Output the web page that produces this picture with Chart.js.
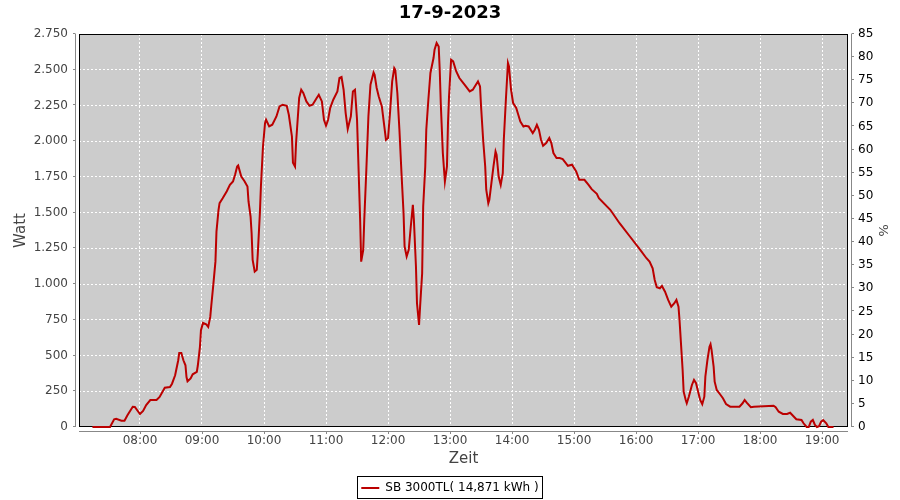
<!DOCTYPE html>
<html>
<head>
<meta charset="utf-8">
<title>17-9-2023</title>
<script src="https://cdn.jsdelivr.net/npm/chart.js@4.4.0/dist/chart.umd.min.js"></script>
<style>
  html, body { margin: 0; padding: 0; background: #fff; }
</style>
</head>
<body>
<canvas id="grafico" width="900" height="500"></canvas>
<script>
const titulo = "17-9-2023";
const nombreSerie = "SB 3000TL( 14,871 kWh )";

// Horas de lectura y potencia en vatios
const horas = [
  "07:14","07:31","07:35","07:37","07:42","07:45","07:48","07:53","07:55","08:00",
  "08:03","08:06","08:10","08:16","08:19","08:24","08:29","08:31","08:34","08:37",
  "08:38","08:40","08:42","08:44","08:45","08:46","08:49","08:51","08:55","08:56",
  "08:58","08:59","09:01","09:04","09:06","09:08","09:09","09:11","09:13","09:14",
  "09:16","09:17","09:20","09:24","09:27","09:30","09:32","09:34","09:35","09:38",
  "09:41","09:44","09:45","09:47","09:48","09:49","09:51","09:53","09:54","09:56",
  "09:57","09:59","10:01","10:02","10:05","10:08","10:12","10:15","10:18","10:22",
  "10:24","10:27","10:28","10:30","10:31","10:34","10:36","10:38","10:41","10:44",
  "10:47","10:51","10:53","10:56","10:58","11:00","11:02","11:04","11:07","11:11",
  "11:13","11:15","11:17","11:19","11:21","11:24","11:26","11:28","11:30","11:31",
  "11:33","11:34","11:36","11:37","11:39","11:41","11:43","11:46","11:47","11:49",
  "11:51","11:54","11:56","11:58","12:00","12:02","12:04","12:06","12:07","12:09",
  "12:11","12:13","12:15","12:16","12:18","12:20","12:22","12:24","12:25","12:27",
  "12:28","12:30","12:31","12:33","12:34","12:36","12:37","12:39","12:41","12:44",
  "12:45","12:47","12:49","12:50","12:51","12:53","12:55","12:57","12:58","12:59",
  "13:01","13:03","13:06","13:09","13:14","13:19","13:22","13:25","13:27","13:29",
  "13:30","13:32","13:34","13:35","13:37","13:38","13:40","13:42","13:44","13:45",
  "13:47","13:49","13:51","13:52","13:54","13:56","13:57","13:59","14:01","14:04",
  "14:06","14:08","14:11","14:13","14:16","14:20","14:22","14:24","14:26","14:28",
  "14:30","14:33","14:36","14:38","14:40","14:43","14:46","14:49","14:52","14:54",
  "14:58","15:02","15:05","15:10","15:14","15:17","15:22","15:24","15:35","15:44",
  "15:54","16:04","16:10","16:13","16:16","16:18","16:20","16:23","16:25","16:28",
  "16:31","16:34","16:37","16:39","16:41","16:42","16:43","16:44","16:45","16:46",
  "16:48","16:49","16:51","16:54","16:56","16:58","17:00","17:02","17:04","17:06",
  "17:07","17:09","17:11","17:12","17:13","17:15","17:16","17:18","17:21","17:24",
  "17:27","17:31","17:40","17:43","17:45","17:47","17:51","17:54","18:13","18:15",
  "18:18","18:22","18:26","18:29","18:32","18:35","18:40","18:42","18:45","18:47",
  "18:49","18:51","18:53","18:55","18:57","18:59","19:01","19:04","19:06","19:11"
];
const vatios = [
  0,0,54,57,44,44,84,142,140,91,
  112,154,189,189,210,275,280,303,362,467,
  518,518,467,432,350,320,340,369,385,432,
  560,677,728,719,700,770,850,1000,1157,1367,
  1520,1566,1600,1650,1694,1718,1765,1823,1830,1753,
  1722,1683,1578,1473,1356,1169,1088,1100,1216,1497,
  1683,1963,2127,2150,2103,2115,2173,2243,2255,2248,
  2185,2033,1850,1823,1987,2302,2360,2337,2278,2248,
  2255,2302,2325,2278,2150,2108,2150,2232,2290,2348,
  2442,2449,2360,2197,2085,2173,2348,2360,2150,1917,
  1450,1157,1240,1450,1800,2173,2395,2481,2465,2372,
  2313,2243,2127,2010,2022,2208,2418,2512,2500,2337,
  2080,1777,1497,1263,1193,1240,1403,1555,1450,1123,
  866,714,842,1076,1543,1823,2080,2290,2477,2582,
  2640,2687,2663,2500,2267,1917,1718,1823,2127,2313,
  2570,2558,2488,2442,2395,2348,2360,2395,2418,2383,
  2243,2010,1823,1660,1566,1590,1706,1823,1928,1905,
  1753,1694,1777,2010,2290,2547,2523,2360,2267,2232,
  2185,2138,2103,2108,2103,2057,2080,2115,2080,2010,
  1968,1987,2022,1987,1917,1882,1882,1875,1847,1828,
  1835,1788,1730,1730,1694,1664,1632,1601,1520,1426,
  1333,1240,1181,1157,1111,1029,978,971,987,947,
  889,842,866,889,842,749,632,516,399,247,
  189,166,212,294,329,306,247,189,159,212,
  352,469,562,579,539,422,317,259,231,201,
  161,142,142,166,189,170,138,142,149,138,
  107,91,91,100,77,54,49,26,0,0,
  37,49,14,0,5,37,49,26,0,0
];

// Ejes
const horasEje = ["08:00","09:00","10:00","11:00","12:00","13:00","14:00","15:00","16:00","17:00","18:00","19:00"];
const rangoHoras = ["07:01", "19:25"];
const rangoVatios = [0, 2750];
const pasoVatios = 250;
const rangoPorcentaje = [0, 85];
const pasoPorcentaje = 5;

const aMinutos = (h) => {
  const [hh, mm] = h.split(":").map(Number);
  return hh * 60 + mm;
};
const aHora = (m) => {
  const hh = Math.floor(m / 60), mm = Math.round(m % 60);
  return String(hh).padStart(2, "0") + ":" + String(mm).padStart(2, "0");
};
const miles = (v) => String(v).replace(/\B(?=(\d{3})+(?!\d))/g, ".");

// Fondo gris, marco negro y ejes grises desplazados (estilo JFreeChart)
const marcoPlot = {
  id: "marcoPlot",
  beforeDraw(chart) {
    const { ctx, chartArea: a } = chart;
    ctx.save();
    ctx.fillStyle = "#cccccc";
    ctx.fillRect(a.left, a.top, a.right - a.left, a.bottom - a.top);
    ctx.restore();
  },
  beforeDatasetsDraw(chart) {
    const { ctx, chartArea: a, scales } = chart;
    const l = Math.round(a.left), r = Math.round(a.right), t = Math.round(a.top), b = Math.round(a.bottom);
    ctx.save();
    ctx.strokeStyle = "#000";
    ctx.lineWidth = 1;
    ctx.strokeRect(l + 0.5, t + 0.5, r - l - 1, b - t - 1);

    ctx.strokeStyle = "#888";
    ctx.beginPath();
    // eje izquierdo
    ctx.moveTo(l - 3.5, t); ctx.lineTo(l - 3.5, b);
    scales.y.ticks.forEach(tk => {
      const y = Math.round(scales.y.getPixelForValue(tk.value)) - 0.5;
      ctx.moveTo(l - 3.5, y); ctx.lineTo(l - 6, y);
    });
    // eje derecho
    ctx.moveTo(r + 3.5, t); ctx.lineTo(r + 3.5, b);
    scales.y1.ticks.forEach(tk => {
      const y = Math.round(scales.y1.getPixelForValue(tk.value)) - 0.5;
      ctx.moveTo(r + 3.5, y); ctx.lineTo(r + 6, y);
    });
    // eje inferior
    ctx.moveTo(l, b + 4.5); ctx.lineTo(r, b + 4.5);
    scales.x.ticks.forEach(tk => {
      const x = Math.round(scales.x.getPixelForValue(tk.value)) + 0.5;
      ctx.moveTo(x, b + 4.5); ctx.lineTo(x, b + 7);
    });
    ctx.stroke();
    ctx.restore();
  },
  afterDraw(chart) {
    // recuadro de la leyenda
    const { ctx } = chart;
    const hb = chart.legend.legendHitBoxes[0];
    if (!hb) return;
    ctx.save();
    ctx.strokeStyle = "#000";
    ctx.lineWidth = 1;
    ctx.strokeRect(Math.round(hb.left) - 3.5, Math.round(hb.top) - 5.5, Math.round(hb.width) + 8, Math.round(hb.height) + 10);
    ctx.restore();
  }
};

Chart.defaults.font.family = "'DejaVu Sans', sans-serif";

const ctx = document.getElementById("grafico").getContext("2d");
const grafico = new Chart(ctx, {
  type: "line",
  data: {
    datasets: [{
      label: nombreSerie,
      data: horas.map((h, i) => ({ x: aMinutos(h), y: vatios[i] })),
      borderColor: "#bb0000",
      backgroundColor: "#bb0000",
      borderWidth: 2,
      pointRadius: 0,
      tension: 0,
      clip: 2,
      yAxisID: "y"
    }]
  },
  options: {
    responsive: false,
    animation: false,
    layout: { padding: { top: 0, left: 0, right: 0, bottom: -4 } },
    plugins: {
      title: {
        display: true,
        text: titulo,
        color: "#000",
        font: { size: 18, weight: "bold" },
        padding: { top: 3, bottom: 9.4 }
      },
      legend: {
        position: "bottom",
        labels: {
          usePointStyle: true,
          pointStyle: "line",
          pointStyleWidth: 18,
          padding: 6,
          color: "#000",
          font: { size: 12 }
        }
      },
      tooltip: { enabled: false }
    },
    scales: {
      x: {
        type: "linear",
        min: aMinutos(rangoHoras[0]),
        max: aMinutos(rangoHoras[1]),
        afterBuildTicks: (s) => { s.ticks = horasEje.map(h => ({ value: aMinutos(h) })); },
        afterFit: (s) => { s.height = 49; },
        ticks: {
          callback: (v) => aHora(v),
          autoSkip: false,
          maxRotation: 0,
          padding: 7,
          color: "#444",
          font: { size: 12 }
        },
        grid: { color: "#ffffff", drawTicks: false },
        border: { display: false, dash: [2, 2] },
        title: { display: true, text: "Zeit", color: "#444", font: { size: 15 }, padding: { top: 0, bottom: 8 } }
      },
      y: {
        position: "left",
        min: rangoVatios[0],
        max: rangoVatios[1],
        afterFit: (s) => { s.width = 79; },
        ticks: {
          stepSize: pasoVatios,
          callback: (v) => miles(v),
          padding: 11,
          color: "#444",
          font: { size: 12 }
        },
        grid: { color: "#ffffff", drawTicks: false },
        border: { display: false, dash: [2, 2] },
        title: { display: true, text: "Watt", color: "#444", font: { size: 15 }, padding: { top: 12, bottom: 0 } }
      },
      y1: {
        position: "right",
        min: rangoPorcentaje[0],
        max: rangoPorcentaje[1],
        afterFit: (s) => { s.width = 52; },
        ticks: {
          stepSize: pasoPorcentaje,
          padding: 10,
          color: "#000",
          font: { size: 12 }
        },
        grid: { drawOnChartArea: false, drawTicks: false },
        border: { display: false },
        title: { display: true, text: "%", color: "#444", font: { size: 13 }, padding: { top: 10, bottom: 0 } }
      }
    }
  },
  plugins: [marcoPlot]
});
</script>
</body>
</html>
